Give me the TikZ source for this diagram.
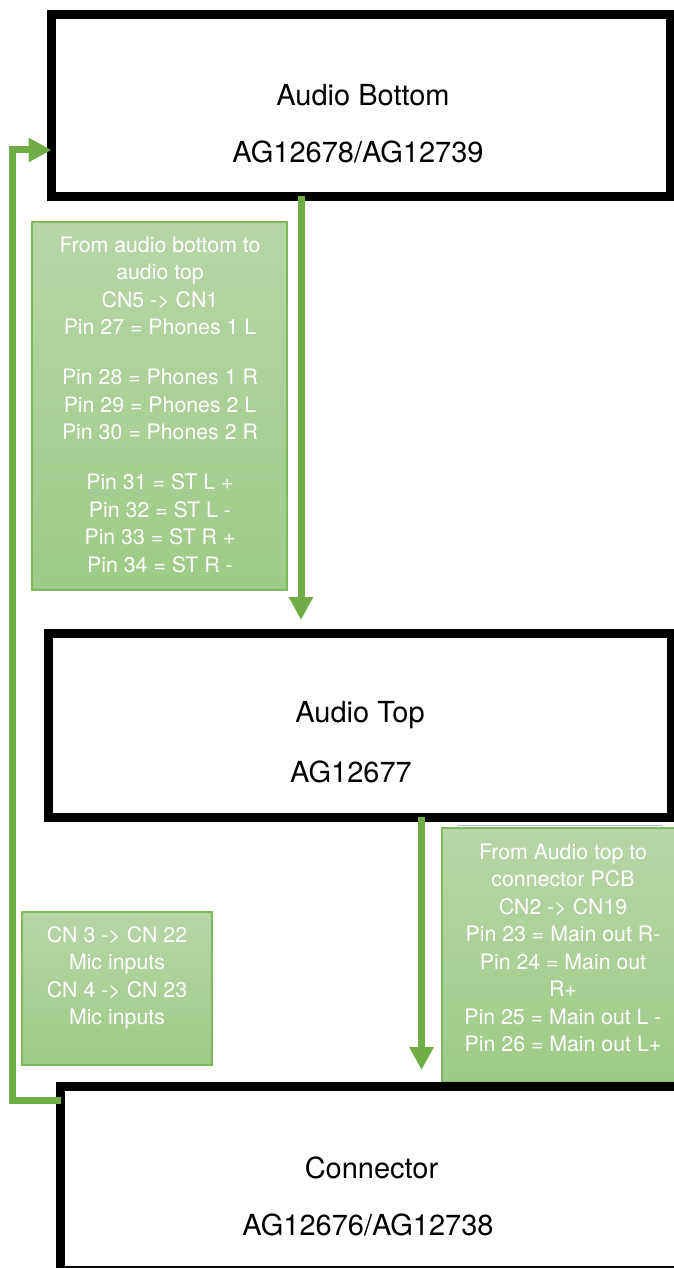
\documentclass[tikz,border=0pt]{standalone}
\usepackage{fontspec}
\setmainfont{TeX Gyre Heros}
\usetikzlibrary{arrows.meta}
\definecolor{arrgreen}{RGB}{112,173,71}
\definecolor{notetop}{RGB}{182,214,167}
\definecolor{notebot}{RGB}{158,203,136}
\definecolor{noteedge}{RGB}{125,185,90}
\definecolor{faintblue}{RGB}{165,180,205}
\tikzset{
  block/.style={rectangle, draw=black, line width=9pt, fill=white, inner sep=0pt, outer sep=0pt},
  note/.style={rectangle, draw=noteedge, line width=1.2pt, top color=notetop, bottom color=notebot, inner sep=0pt, outer sep=0pt},
  notetext/.style={text=white, align=center, inner sep=0pt, font=\fontsize{21.3}{27.5}\selectfont},
  titletext/.style={text=black, inner sep=0pt, font=\fontsize{29}{34}\selectfont},
  flow/.style={draw=arrgreen, line width=7pt, line join=miter, -{Triangle[length=23pt,width=23pt]}}
}
\begin{document}
\begin{tikzpicture}[x=1pt,y=-1pt]
\useasboundingbox (0,0) rectangle (674,1268);
\begin{scope}
\clip (0,0) rectangle (674,1268);
% blocks
\node[block, minimum width=619pt, minimum height=182pt] (bottom) at (361,105.5) {};
\node[block, minimum width=623pt, minimum height=184pt] (top) at (359.5,725) {};
% notes
\node[note, minimum width=255pt, minimum height=368pt] (n1) at (159.5,406) {};
\node[notetext] (n1t) at (160,404.5) {From audio bottom to\\audio top\\CN5 -> CN1\\Pin 27 = Phones 1 L\\[22.5pt]Pin 28 = Phones 1 R\\Pin 29 = Phones 2 L\\Pin 30 = Phones 2 R\\[22.5pt]Pin 31 = ST L +\\Pin 32 = ST L -\\Pin 33 = ST R +\\Pin 34 = ST R -};
\coordinate (fa) at (458,825);
\coordinate (fb) at (662,825);
\draw[faintblue, line width=1pt] (fa) -- (fb);
\node[note, minimum width=242pt, minimum height=254pt] (n2) at (563,955) {};
\node[notetext] (n2t) at (563,948) {From Audio top to\\connector PCB\\CN2 -> CN19\\Pin 23 = Main out R-\\Pin 24 = Main out\\R+\\Pin 25 = Main out L -\\Pin 26 = Main out L+};
\node[note, minimum width=190pt, minimum height=153pt] (n3) at (117,988.5) {};
\node[notetext] (n3t) at (117,978) {CN 3 -> CN 22\\Mic inputs\\CN 4 -> CN 23\\Mic inputs};
\node[block, minimum width=629.5pt, minimum height=184pt] (conn) at (375.25,1178) {};
% texts
\node[titletext] (bt1) at (363,95) {Audio Bottom};
\node[titletext] (bt2) at (358,152) {AG12678/AG12739};
\node[titletext] (tt1) at (360,715) {Audio Top};
\node[titletext] (tt2) at (351,772) {AG12677};
\node[titletext] (ct1) at (371.5,1168) {Connector};
\node[titletext] (ct2) at (368,1225) {AG12676/AG12738};
% connectors
\coordinate (t1) at (301,620);
\coordinate (t2) at (421.5,1070);
\coordinate (c1) at (12,1100);
\coordinate (c2) at (12,150);
\draw[flow] (bottom.south -| t1) -- (t1);
\draw[flow] (top.south -| t2) -- (t2);
\draw[flow] (conn.west |- c1) -- (c1) -- (c2) -- (bottom.west |- c2);
\end{scope}
\end{tikzpicture}
\end{document}
